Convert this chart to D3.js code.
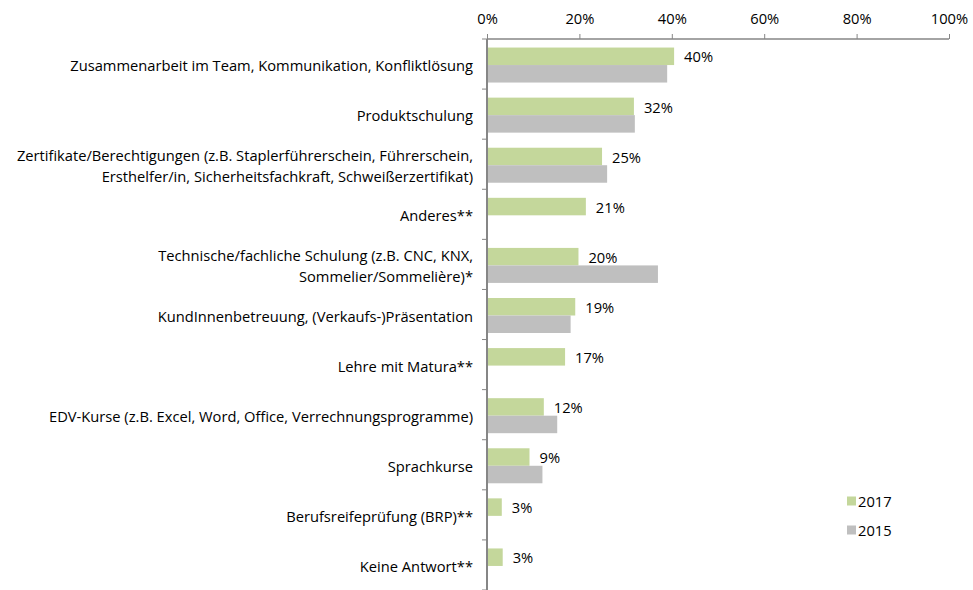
<!DOCTYPE html>
<html><head><meta charset="utf-8">
<script src="https://cdn.jsdelivr.net/npm/d3@7"></script>
<style>body{margin:0;background:#fff}svg{display:block;font-family:"Open Sans",sans-serif}</style>
</head><body><svg id="c" width="973" height="590"></svg>
<script>
const categories = [
  ["Zusammenarbeit im Team, Kommunikation, Konfliktlösung"],
  ["Produktschulung"],
  ["Zertifikate/Berechtigungen (z.B. Staplerführerschein, Führerschein,", "Ersthelfer/in, Sicherheitsfachkraft, Schweißerzertifikat)"],
  ["Anderes**"],
  ["Technische/fachliche Schulung (z.B. CNC, KNX,", "Sommelier/Sommelière)*"],
  ["KundInnenbetreuung, (Verkaufs-)Präsentation"],
  ["Lehre mit Matura**"],
  ["EDV-Kurse (z.B. Excel, Word, Office, Verrechnungsprogramme)"],
  ["Sprachkurse"],
  ["Berufsreifeprüfung (BRP)**"],
  ["Keine Antwort**"]
];
const values2017 = [40.5, 31.8, 24.9, 21.4, 19.8, 19.1, 16.9, 12.3, 9.2, 3.2, 3.4];
const values2015 = [39.0, 32.0, 26.0, null, 37.0, 18.1, null, 15.2, 12.0, null, null];
const labels2017 = ["40%", "32%", "25%", "21%", "20%", "19%", "17%", "12%", "9%", "3%", "3%"];
const seriesNames = ["2017", "2015"];
const seriesColors = ["#c4d79b", "#bfbfbf"];
const xTicks = [0, 20, 40, 60, 80, 100];

const svg = d3.select("#c");
const x = d3.scaleLinear().domain([0, 100]).range([487, 949]);
const y = d3.scaleBand().domain(d3.range(categories.length)).range([39, 590]);
const barH = 17.5;
const axisColor = "#868686";
const fs = 14.7;

// top axis
const gx = svg.append("g").attr("transform", "translate(0,39)")
  .call(d3.axisTop(x).tickValues(xTicks).tickFormat(d => d + "%").tickSize(5).tickPadding(10));
gx.select(".domain").attr("stroke", axisColor).attr("stroke-width", 1.5).attr("d", `M${x(0)},0H${x(100)}`);
gx.selectAll(".tick line").attr("stroke", axisColor);
gx.selectAll(".tick text").attr("font-size", fs).attr("fill", "#000").attr("font-family", "'Open Sans', sans-serif");

// left axis
const gy = svg.append("g").attr("transform", `translate(${x(0)},0)`);
gy.append("line").attr("x1", 0).attr("x2", 0).attr("y1", 39).attr("y2", 590)
  .attr("stroke", axisColor).attr("stroke-width", 2);
gy.selectAll("line.t").data(d3.range(categories.length + 1)).join("line")
  .attr("class", "t").attr("x1", -5).attr("x2", 0)
  .attr("y1", i => 39 + i * y.step()).attr("y2", i => 39 + i * y.step())
  .attr("stroke", axisColor);

// category labels
const lab = svg.append("g").attr("font-size", fs).attr("fill", "#000").attr("text-anchor", "end");
categories.forEach((lines, i) => {
  const cy = y(i) + y.bandwidth() / 2 + 2;
  const n = lines.length;
  lines.forEach((t, j) => {
    lab.append("text").attr("x", 473).attr("y", cy + (j - (n - 1) / 2) * 21)
      .attr("dy", "0.35em").text(t);
  });
});

// bars
const barTop = i => y(i) + (y.bandwidth() - 2 * barH) / 2 + 1;
svg.append("g").selectAll("rect").data(values2017).join("rect")
  .attr("x", x(0) + 1).attr("y", (d, i) => barTop(i))
  .attr("width", d => x(d) - x(0) - 1).attr("height", barH)
  .attr("fill", seriesColors[0]);
svg.append("g").selectAll("rect").data(values2015.map((v, i) => ({v, i})).filter(d => d.v != null)).join("rect")
  .attr("x", x(0) + 1).attr("y", d => barTop(d.i) + barH)
  .attr("width", d => x(d.v) - x(0) - 1).attr("height", barH)
  .attr("fill", seriesColors[1]);

// data labels
svg.append("g").attr("font-size", fs).attr("fill", "#000").selectAll("text").data(values2017).join("text")
  .attr("x", d => x(d) + 10).attr("y", (d, i) => barTop(i) + barH / 2 + 1)
  .attr("dy", "0.35em").text((d, i) => labels2017[i]);

// legend
const lg = svg.append("g");
seriesNames.forEach((s, i) => {
  const ly = 501 + i * 29;
  lg.append("rect").attr("x", 847).attr("y", ly - 4.5).attr("width", 9).attr("height", 9).attr("fill", seriesColors[i]);
  lg.append("text").attr("x", 858).attr("y", ly + 1).attr("dy", "0.35em").attr("font-size", fs).text(s);
});
</script></body></html>
